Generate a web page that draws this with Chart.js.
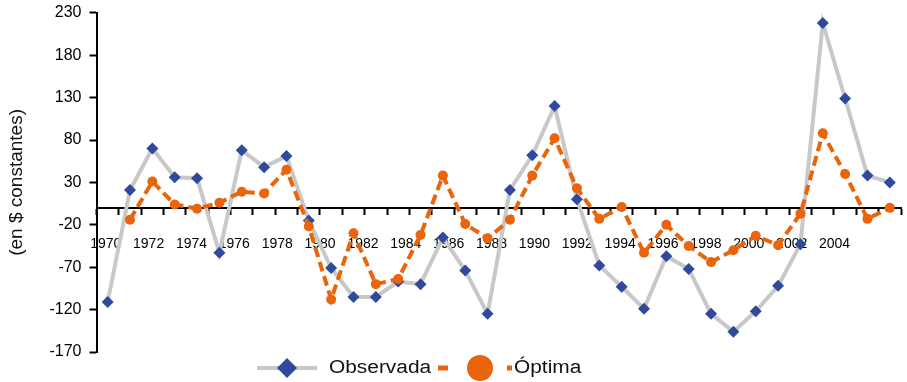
<!DOCTYPE html>
<html>
<head>
<meta charset="utf-8">
<script src="https://cdn.jsdelivr.net/npm/chart.js@4/dist/chart.umd.min.js"></script>
<style>
  html, body { margin: 0; padding: 0; background: #fff; }
  #wrap { width: 907px; height: 382px; }
</style>
</head>
<body>
<div id="wrap"><canvas id="chart"></canvas></div>
<script>
// Years on the category axis
const years = ['1970','1971','1972','1973','1974','1975','1976','1977','1978','1979',
               '1980','1981','1982','1983','1984','1985','1986','1987','1988','1989',
               '1990','1991','1992','1993','1994','1995','1996','1997','1998','1999',
               '2000','2001','2002','2003','2004','2005'];

// Observed series
const observada = [-111, 21, 70, 36, 35, -53, 68, 48, 61, -15,
                   -71, -105, -105, -87, -90, -35, -74, -125, 21, 62,
                   120, 10, -68, -93, -119, -57, -72, -125, -146, -122,
                   -92, -43, 218, 129, 38, 30];

// Optimal series (no value for 1970)
const optima = [null, -14, 31, 4, -1, 6, 19, 17, 45, -22,
                -108, -30, -90, -84, -32, 38, -19, -36, -14, 38,
                82, 23, -13, 1, -53, -20, -45, -64, -50, -33,
                -44, -7, 88, 40, -13, 0];

// Tick labels
const yearTicks = [1970, 1972, 1974, 1976, 1978, 1980, 1982, 1984, 1986, 1988,
                   1990, 1992, 1994, 1996, 1998, 2000, 2002, 2004];
const yTicks = [-170, -120, -70, -20, 30, 80, 130, 180, 230];

const GRAY = '#c8c8c8';
const BLUE = '#2f4a9b';
const ORANGE = '#ea640c';
const FONT = 'Liberation Sans';

// Legend drawn under the plot: line + marker + label, as in the original
const bottomLegend = {
  id: 'bottomLegend',
  afterDraw(chart) {
    const ctx = chart.ctx;
    const y = 368;
    ctx.save();

    // Observada
    ctx.strokeStyle = GRAY;
    ctx.lineWidth = 4;
    ctx.beginPath();
    ctx.moveTo(257, y);
    ctx.lineTo(317, y);
    ctx.stroke();
    ctx.fillStyle = BLUE;
    Chart.helpers.drawPoint(ctx, {pointStyle: 'rectRot', radius: 10, rotation: 0, borderWidth: 0}, 287, y);

    // Óptima
    ctx.strokeStyle = ORANGE;
    ctx.lineWidth = 5;
    ctx.setLineDash([10, 59]);
    ctx.beginPath();
    ctx.moveTo(438, y);
    ctx.lineTo(512, y);
    ctx.stroke();
    ctx.setLineDash([]);
    ctx.fillStyle = ORANGE;
    Chart.helpers.drawPoint(ctx, {pointStyle: 'circle', radius: 13, rotation: 0, borderWidth: 0}, 480, y);

    // labels
    ctx.fillStyle = '#111';
    ctx.font = '18px "' + FONT + '"';
    ctx.textBaseline = 'middle';
    const labels = chart.data.datasets.map(d => d.label);
    [[329, labels[0]], [514, labels[1]]].forEach(([x, t]) => {
      ctx.save();
      ctx.translate(x, y);
      ctx.scale(1.16, 1);
      ctx.fillText(t, 0, 0);
      ctx.restore();
    });
    ctx.restore();
  }
};

new Chart(document.getElementById('chart'), {
  type: 'line',
  data: {
    labels: years,
    datasets: [
      {
        label: 'Observada',
        data: observada,
        borderColor: GRAY,
        borderWidth: 4,
        pointStyle: 'rectRot',
        pointRadius: 6,
        pointBackgroundColor: BLUE,
        pointBorderColor: BLUE,
        pointBorderWidth: 0,
        tension: 0,
        order: 1
      },
      {
        label: 'Óptima',
        data: optima,
        borderColor: ORANGE,
        borderWidth: 4,
        borderDash: [10, 5],
        pointStyle: 'circle',
        pointRadius: 5,
        pointBackgroundColor: ORANGE,
        pointBorderColor: ORANGE,
        pointBorderWidth: 0,
        tension: 0,
        order: 0
      }
    ]
  },
  options: {
    responsive: true,
    maintainAspectRatio: false,
    animation: false,
    devicePixelRatio: 1,
    layout: { padding: { top: 12, bottom: 30, left: 0, right: 0 } },
    plugins: {
      legend: { display: false },
      tooltip: { enabled: false }
    },
    scales: {
      y: {
        min: -170,
        max: 230,
        afterBuildTicks: axis => { axis.ticks = yTicks.map(v => ({value: v})); },
        afterFit: scale => { scale.width = 96.5; },
        ticks: {
          color: '#000',
          font: { family: FONT, size: 16, lineHeight: 0.6 },
          padding: 8
        },
        grid: {
          drawOnChartArea: false,
          tickLength: 7,
          tickWidth: 2,
          tickColor: '#000'
        },
        border: { color: '#000', width: 2 },
        title: {
          display: true,
          text: '(en $ constantes)',
          color: '#111',
          font: { family: FONT, size: 19 },
          padding: { top: 5, bottom: 0 }
        }
      },
      x: {
        type: 'category',
        position: { y: 0 },
        offset: true,
        ticks: { display: false },
        grid: {
          drawOnChartArea: false,
          offset: true,
          tickLength: 6,
          tickWidth: 2,
          tickColor: '#000'
        },
        border: { color: '#000', width: 2 }
      },
      // year labels sit below the zero line, every other year
      xYear: {
        type: 'linear',
        axis: 'x',
        position: { y: 0 },
        min: 1969.57,
        max: 2007.1,
        afterBuildTicks: axis => { axis.ticks = yearTicks.map(v => ({value: v})); },
        ticks: {
          color: '#000',
          font: { family: FONT, size: 14 },
          padding: 28,
          autoSkip: false,
          maxRotation: 0,
          callback: v => String(v)
        },
        grid: { display: false, drawTicks: false },
        border: { display: false }
      }
    }
  },
  plugins: [bottomLegend]
});
</script>
</body>
</html>
